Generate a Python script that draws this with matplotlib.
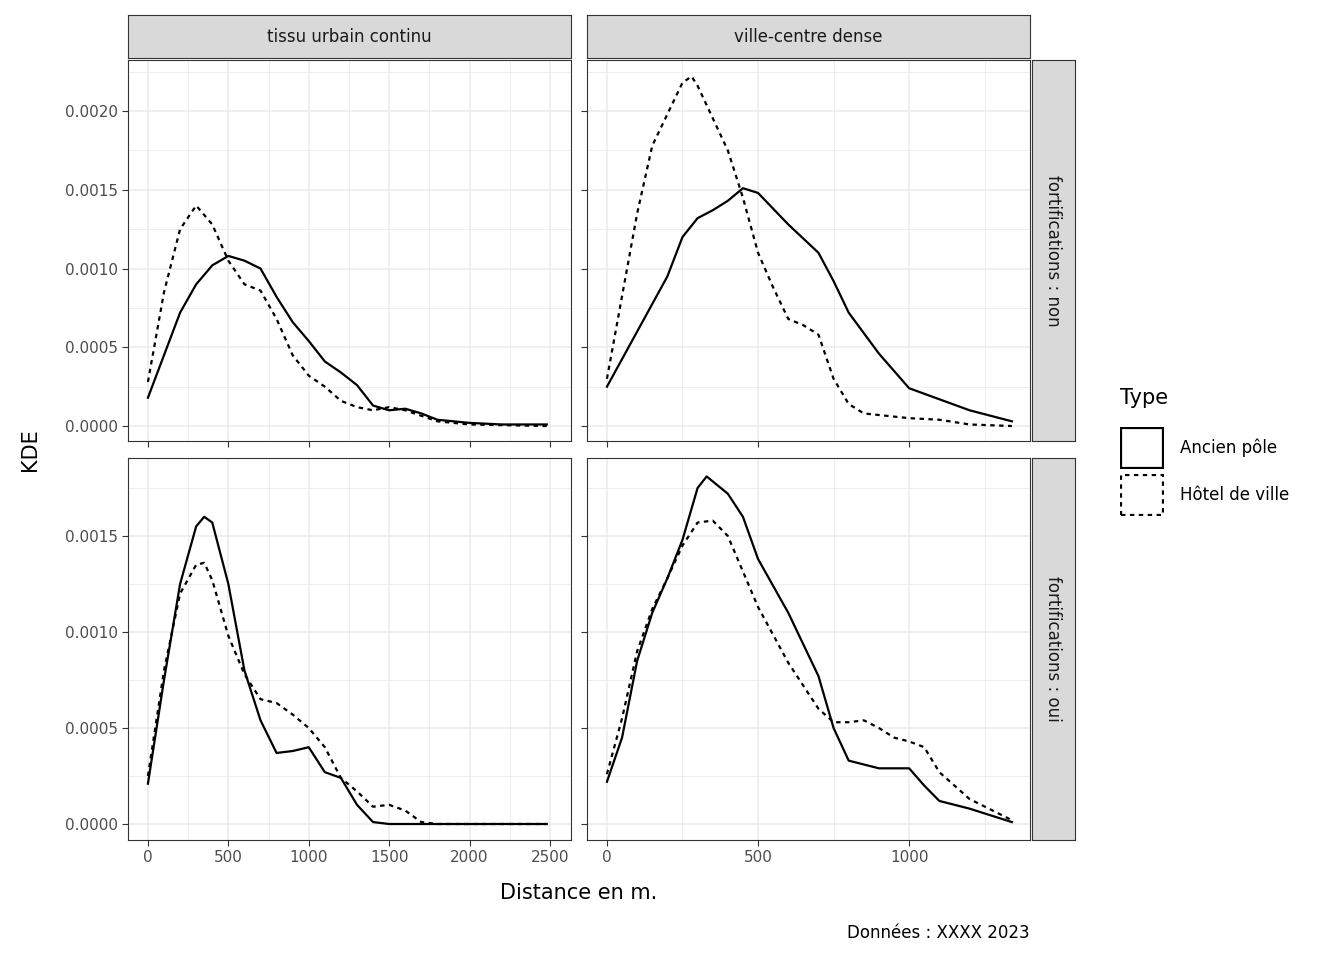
import numpy as np
import matplotlib.pyplot as plt
from matplotlib.lines import Line2D
from matplotlib.patches import Rectangle

cols = ["tissu urbain continu", "ville-centre dense"]
rows = ["fortifications : non", "fortifications : oui"]
types = ["Ancien pôle", "Hôtel de ville"]

# (row, col, type) -> x, y
tl_pole_x = [0, 100, 200, 300, 400, 500, 600, 700, 800, 900, 1000, 1100, 1200, 1300, 1400, 1500, 1600, 1700, 1800, 2000, 2200, 2480]
tl_pole_y = [0.00018, 0.00045, 0.00072, 0.00090, 0.00102, 0.00108, 0.00105, 0.00100, 0.00082, 0.00066, 0.00054, 0.00041, 0.00034, 0.00026, 0.00013, 0.00010, 0.00011, 0.00008, 0.00004, 0.00002, 0.00001, 0.00001]
tl_hdv_x = [0, 100, 200, 300, 400, 500, 600, 700, 800, 900, 1000, 1100, 1200, 1300, 1400, 1500, 1600, 1800, 2000, 2480]
tl_hdv_y = [0.00028, 0.00085, 0.00125, 0.00140, 0.00128, 0.00105, 0.00090, 0.00086, 0.00068, 0.00045, 0.00032, 0.00025, 0.00016, 0.00012, 0.00010, 0.00012, 0.00010, 0.00003, 0.00001, 0.0]
tr_pole_x = [0, 100, 200, 250, 300, 350, 400, 450, 500, 550, 600, 700, 750, 800, 900, 1000, 1100, 1200, 1300, 1340]
tr_pole_y = [0.00025, 0.00060, 0.00095, 0.00120, 0.00132, 0.00137, 0.00143, 0.00151, 0.00148, 0.00138, 0.00128, 0.00110, 0.00092, 0.00072, 0.00046, 0.00024, 0.00017, 0.00010, 0.00005, 0.00003]
tr_hdv_x = [0, 100, 150, 200, 250, 280, 300, 400, 450, 500, 550, 600, 650, 700, 750, 800, 850, 900, 1000, 1100, 1200, 1340]
tr_hdv_y = [0.00030, 0.00135, 0.00178, 0.00198, 0.00218, 0.00222, 0.00216, 0.00175, 0.00145, 0.00110, 0.00088, 0.00068, 0.00064, 0.00058, 0.00030, 0.00014, 0.00008, 0.00007, 0.00005, 0.00004, 0.00001, 0.0]
bl_pole_x = [0, 100, 200, 300, 350, 400, 500, 600, 700, 800, 900, 1000, 1100, 1200, 1300, 1400, 1500, 2480]
bl_pole_y = [0.00021, 0.00075, 0.00125, 0.00155, 0.00160, 0.00157, 0.00125, 0.00080, 0.00054, 0.00037, 0.00038, 0.00040, 0.00027, 0.00024, 0.00010, 0.00001, 0.0, 0.0]
bl_hdv_x = [0, 100, 200, 300, 350, 400, 500, 600, 700, 800, 900, 1000, 1100, 1200, 1300, 1400, 1500, 1600, 1700, 1800, 2480]
bl_hdv_y = [0.00025, 0.00080, 0.00120, 0.00135, 0.00136, 0.00127, 0.00098, 0.00078, 0.00065, 0.00063, 0.00057, 0.00050, 0.00040, 0.00024, 0.00017, 0.00009, 0.00010, 0.00007, 0.00001, 0.0, 0.0]
br_pole_x = [0, 50, 100, 150, 200, 250, 300, 330, 400, 450, 500, 600, 700, 750, 800, 900, 1000, 1050, 1100, 1200, 1340]
br_pole_y = [0.00022, 0.00045, 0.00085, 0.00110, 0.00128, 0.00148, 0.00175, 0.00181, 0.00172, 0.00160, 0.00138, 0.00110, 0.00077, 0.00050, 0.00033, 0.00029, 0.00029, 0.00020, 0.00012, 0.00008, 0.00001]
br_hdv_x = [0, 50, 100, 150, 200, 250, 300, 350, 400, 500, 600, 700, 750, 800, 850, 900, 950, 1000, 1050, 1100, 1200, 1340]
br_hdv_y = [0.00026, 0.00055, 0.00090, 0.00112, 0.00128, 0.00145, 0.00157, 0.00158, 0.00150, 0.00113, 0.00084, 0.00060, 0.00053, 0.00053, 0.00054, 0.00050, 0.00045, 0.00043, 0.00040, 0.00027, 0.00013, 0.00002]

data = {
    (0, 0): [(tl_pole_x, tl_pole_y), (tl_hdv_x, tl_hdv_y)],
    (0, 1): [(tr_pole_x, tr_pole_y), (tr_hdv_x, tr_hdv_y)],
    (1, 0): [(bl_pole_x, bl_pole_y), (bl_hdv_x, bl_hdv_y)],
    (1, 1): [(br_pole_x, br_pole_y), (br_hdv_x, br_hdv_y)],
}

W, H = 1344, 960
fig = plt.figure(figsize=(W / 100, H / 100), dpi=100)


def box(x0, y0, x1, y1):
    return [x0 / W, 1 - y1 / H, (x1 - x0) / W, (y1 - y0) / H]


col_px = [(128, 571), (587, 1030)]
row_px = [(60, 441), (458, 840)]
xlims = [(-124, 2631), (-66, 1400)]
ylims = [(-0.000095, 0.002324), (-0.0000833, 0.001906)]
yticks = [np.arange(0, 0.00201, 0.0005), np.arange(0, 0.00151, 0.0005)]
xticks = [np.arange(0, 2501, 500), np.arange(0, 1001, 500)]
styles = ["-", (0, (2, 2))]

for r in range(2):
    for c in range(2):
        ax = fig.add_axes(box(col_px[c][0], row_px[r][0], col_px[c][1], row_px[r][1]))
        ax.set_xlim(*xlims[c])
        ax.set_ylim(*ylims[r])
        ax.set_xticks(xticks[c])
        ax.set_xticks(xticks[c][:-1] + 250 if c == 0 else [250, 750, 1250], minor=True)
        ax.set_yticks(yticks[r])
        ax.set_yticks(yticks[r] + 0.00025, minor=True)
        ax.grid(which="major", color="#ebebeb", lw=1.1)
        ax.grid(which="minor", color="#ebebeb", lw=0.6)
        ax.set_axisbelow(True)
        for s in ax.spines.values():
            s.set_color("#333333")
            s.set_linewidth(0.8)
        ax.tick_params(which="minor", length=0)
        ax.tick_params(which="major", length=4, color="#333333", labelsize=11, labelcolor="#4d4d4d")
        if c == 0:
            ax.set_yticklabels([f"{v:.4f}" for v in yticks[r]])
        else:
            ax.set_yticklabels([])
        if r == 1:
            ax.set_xticklabels([str(int(v)) for v in xticks[c]])
        else:
            ax.set_xticklabels([])
        for (x, y), ls in zip(data[(r, c)], styles):
            ax.plot(x, y, color="black", lw=1.6, ls=ls)

# strips
for c in range(2):
    sa = fig.add_axes(box(col_px[c][0], 15, col_px[c][1], 58))
    sa.set_facecolor("#d9d9d9")
    sa.set_xticks([]); sa.set_yticks([])
    for s in sa.spines.values():
        s.set_color("#333333"); s.set_linewidth(0.8)
    sa.text(0.5, 0.5, cols[c], ha="center", va="center", fontsize=12, color="#1a1a1a")
for r in range(2):
    sa = fig.add_axes(box(1032, row_px[r][0], 1075, row_px[r][1]))
    sa.set_facecolor("#d9d9d9")
    sa.set_xticks([]); sa.set_yticks([])
    for s in sa.spines.values():
        s.set_color("#333333"); s.set_linewidth(0.8)
    sa.text(0.5, 0.5, rows[r], ha="center", va="center", fontsize=12, color="#1a1a1a", rotation=-90)

fig.text(579 / W, 1 - 893 / H, "Distance en m.", ha="center", va="center", fontsize=15)
fig.text(30 / W, 1 - 450 / H, "KDE", ha="center", va="center", fontsize=15, rotation=90)
fig.text(1030 / W, 1 - 933 / H, "Données : XXXX 2023", ha="right", va="center", fontsize=12)

# legend
fig.text(1120 / W, 1 - 398 / H, "Type", ha="left", va="center", fontsize=15)
for i, (lab, ls) in enumerate(zip(types, styles)):
    yc = 448 + i * 47
    la = fig.add_axes(box(1120, yc - 21, 1164, yc + 21))
    la.set_xlim(0, 1); la.set_ylim(0, 1); la.axis("off")
    la.add_patch(Rectangle((0.02, 0.02), 0.96, 0.96, fill=False, ec="black", lw=1.6, ls=ls))
    fig.text(1180 / W, 1 - yc / H, lab, ha="left", va="center", fontsize=12)

fig.savefig("out.png", dpi=100)
